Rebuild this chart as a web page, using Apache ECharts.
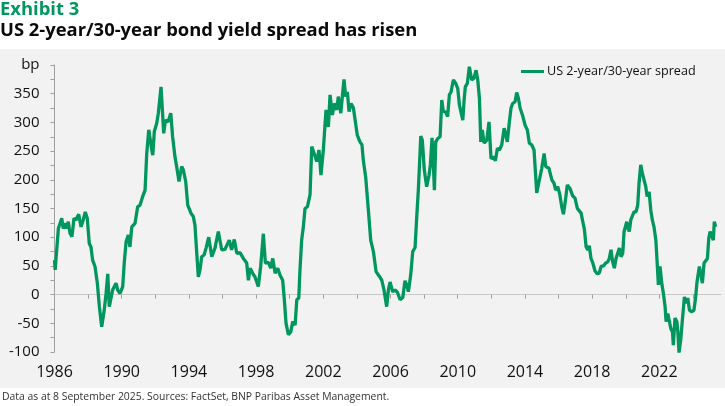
<!DOCTYPE html>
<html lang="en">
<head>
<meta charset="utf-8">
<title>US 2-year/30-year spread</title>
<script src="https://cdn.jsdelivr.net/npm/echarts@6.0.0/dist/echarts.min.js"></script>
<style>
  html, body { margin: 0; padding: 0; background: #fff; }
  #chart { width: 725px; height: 406px; }
</style>
</head>
<body>
<div id="chart"></div>
<script>
// spread in bp (decimal year, value)
var years = [
  1986.00, 1986.04, 1986.23, 1986.43, 1986.52, 1986.67, 1986.73, 1986.82, 1986.92, 1987.04,
  1987.16, 1987.28, 1987.44, 1987.58, 1987.71, 1987.83, 1987.95, 1988.07, 1988.17, 1988.27,
  1988.41, 1988.55, 1988.67, 1988.81, 1988.96, 1989.07, 1989.17, 1989.26, 1989.36, 1989.46,
  1989.56, 1989.66, 1989.76, 1989.90, 1990.06, 1990.15, 1990.26, 1990.39, 1990.49, 1990.60,
  1990.79, 1990.95, 1991.09, 1991.25, 1991.39, 1991.49, 1991.61, 1991.69, 1991.79, 1991.85,
  1991.94, 1992.08, 1992.18, 1992.34, 1992.42, 1992.50, 1992.60, 1992.76, 1992.92, 1993.03,
  1993.17, 1993.27, 1993.41, 1993.57, 1993.67, 1993.81, 1993.93, 1994.02, 1994.12, 1994.26,
  1994.36, 1994.46, 1994.56, 1994.66, 1994.76, 1994.90, 1995.02, 1995.18, 1995.36, 1995.55,
  1995.75, 1995.95, 1996.15, 1996.40, 1996.54, 1996.70, 1996.85, 1997.04, 1997.24, 1997.44,
  1997.54, 1997.64, 1997.80, 1997.93, 1998.13, 1998.27, 1998.43, 1998.55, 1998.73, 1998.87,
  1998.99, 1999.13, 1999.29, 1999.42, 1999.58, 1999.68, 1999.78, 1999.92, 2000.06, 2000.18,
  2000.32, 2000.42, 2000.54, 2000.61, 2000.71, 2000.81, 2000.91, 2001.05, 2001.21, 2001.31,
  2001.45, 2001.61, 2001.74, 2001.86, 2002.00, 2002.16, 2002.30, 2002.40, 2002.54, 2002.65,
  2002.80, 2002.89, 2003.04, 2003.15, 2003.23, 2003.33, 2003.43, 2003.53, 2003.65, 2003.79,
  2003.90, 2004.02, 2004.18, 2004.30, 2004.38, 2004.52, 2004.68, 2004.82, 2004.98, 2005.14,
  2005.33, 2005.48, 2005.61, 2005.77, 2005.87, 2005.97, 2006.13, 2006.27, 2006.41, 2006.57,
  2006.73, 2006.86, 2006.96, 2007.06, 2007.20, 2007.32, 2007.46, 2007.56, 2007.66, 2007.80,
  2007.89, 2008.01, 2008.15, 2008.29, 2008.37, 2008.47, 2008.55, 2008.61, 2008.69, 2008.81,
  2008.95, 2009.05, 2009.14, 2009.29, 2009.40, 2009.50, 2009.60, 2009.74, 2009.88, 2010.00,
  2010.10, 2010.20, 2010.30, 2010.38, 2010.45, 2010.57, 2010.69, 2010.83, 2010.97, 2011.09,
  2011.19, 2011.29, 2011.37, 2011.46, 2011.57, 2011.73, 2011.86, 2011.98, 2012.12, 2012.24,
  2012.36, 2012.48, 2012.62, 2012.76, 2012.84, 2012.95, 2013.05, 2013.17, 2013.27, 2013.41,
  2013.51, 2013.61, 2013.71, 2013.85, 2014.01, 2014.14, 2014.26, 2014.40, 2014.54, 2014.70,
  2014.84, 2015.00, 2015.14, 2015.24, 2015.43, 2015.60, 2015.73, 2015.83, 2015.95, 2016.07,
  2016.19, 2016.29, 2016.40, 2016.52, 2016.68, 2016.84, 2016.98, 2017.12, 2017.22, 2017.34,
  2017.44, 2017.54, 2017.64, 2017.74, 2017.83, 2017.93, 2018.04, 2018.17, 2018.31, 2018.43,
  2018.53, 2018.67, 2018.81, 2018.93, 2019.02, 2019.12, 2019.22, 2019.32, 2019.42, 2019.52,
  2019.62, 2019.72, 2019.82, 2019.90, 2019.98, 2020.06, 2020.14, 2020.21, 2020.30, 2020.39,
  2020.49, 2020.61, 2020.71, 2020.79, 2020.89, 2020.99, 2021.09, 2021.19, 2021.27, 2021.39,
  2021.49, 2021.58, 2021.68, 2021.79, 2021.86, 2021.94, 2022.04, 2022.14, 2022.24, 2022.34,
  2022.40, 2022.50, 2022.60, 2022.68, 2022.78, 2022.83, 2022.93, 2023.04, 2023.10, 2023.17,
  2023.27, 2023.37, 2023.49, 2023.59, 2023.69, 2023.79, 2023.93, 2024.06, 2024.16, 2024.24,
  2024.38, 2024.46, 2024.56, 2024.66, 2024.76, 2024.86, 2024.94, 2025.02, 2025.12, 2025.21,
  2025.27, 2025.35
];
var spread = [
   60,  43, 115, 133, 115, 124, 115, 127, 107, 101,
  133, 130, 140, 118, 130, 144, 133,  89,  83,  60,
   49,  20, -21, -56, -27,   2,  36, -21, -18,   8,
   11,  20,   8,   2,  14,  55,  92, 104,  83, 118,
  124, 153, 156, 171, 182, 246, 287, 288, 252, 243,
  284, 298, 316, 362, 322, 281, 304, 301, 316, 275,
  240, 223, 197, 223, 217, 197, 156, 153, 142, 136,
  121,  75,  31,  43,  66,  69,  81, 100,  66,  81,
  110,  78,  79,  95,  78,  96,  72,  73,  63,  55,
   25,  46,  37,  31,  14,  49, 106,  55,  56,  46,
   63,  37,  46,  34,  25,  -9, -50, -70, -65, -47,
  -53,  -9,  -6,  43,  95, 118, 150, 153, 174, 258,
  246, 232, 252, 208, 252, 322, 292, 348, 313, 333,
  322, 345, 316, 351, 375, 345, 353, 319, 333, 325,
  327, 278, 266, 261, 234, 205, 147,  95,  75,  40,
   32,  25,   8, -21,   8,  22,   5,   8,   4,  -9,
   -5,  24,  17,   5,  34,  75,  82, 136, 185, 276,
  269, 217, 188, 208, 226, 273, 226, 182, 266, 272,
  275, 339, 319, 318, 310, 348, 353, 374, 368, 359,
  330, 333, 304, 339, 362, 368, 397, 374, 377, 391,
  374, 342, 266, 287, 264, 269, 301, 237, 240, 233,
  255, 252, 261, 290, 281, 266, 295, 325, 333, 336,
  352, 342, 325, 313, 295, 287, 264, 261, 252, 177,
  197, 220, 246, 223, 220, 200, 194, 182, 188, 175,
  153, 140, 162, 191, 185, 172, 168, 150, 153, 142,
  139, 113,  83,  78,  85,  63,  55,  41,  36,  38,
   49,  50,  55,  57,  63,  78,  57,  46,  63,  60,
   81,  66,  72, 110, 113, 127, 115, 110, 130, 127,
  144, 144, 156, 194, 226, 211, 208, 188, 171, 179,
  147, 130, 118,  95,  60,  17,  49,  20,   2, -21,
  -47, -33, -47, -59, -65, -88, -41, -47, -65, -101,
  -79, -44,  -4, -15,  -6, -27, -30, -27,  -4,  22,
   49,  37,  20,  55,  55,  63,  98, 110, 107,  95,
  127, 118
];
var tickYears = [1986, 1988, 1990, 1992, 1994, 1996, 1998, 2000, 2002, 2004,
                 2006, 2008, 2010, 2012, 2014, 2016, 2018, 2020, 2022, 2024];
var labelYears = [1986, 1990, 1994, 1998, 2002, 2006, 2010, 2014, 2018, 2022];

var green = '#00965E';
var font = '"Open Sans", "Noto Sans", sans-serif';

var points = years.map(function (y, i) { return [y, spread[i]]; });

var option = {
    backgroundColor: '#ffffff',
    animation: false,
    textStyle: { fontFamily: font },
    graphic: [
        { type: 'rect', z: -10, shape: { x: 0, y: 49, width: 725, height: 339 }, style: { fill: '#f2f2f2' } },
        { type: 'text', left: 0, top: 1, style: { text: 'Exhibit 3', fill: green, font: 'bold 18.4px ' + font } },
        { type: 'text', left: 0, top: 22, style: { text: 'US 2-year/30-year bond yield spread has risen', fill: '#0a0a0a', font: 'bold 18.4px ' + font } },
        { type: 'text', left: 2, top: 392, style: { text: 'Data as at 8 September 2025. Sources: FactSet, BNP Paribas Asset Management.', fill: '#333', font: '10.4px ' + font } }
    ],
    legend: {
        data: ['US 2-year/30-year spread'],
        left: 521, top: 65, padding: 0,
        icon: 'rect', itemWidth: 23, itemHeight: 3,
        textStyle: { fontSize: 12.6, color: '#111', fontFamily: font, padding: [0, 0, 0, -2] }
    },
    grid: { left: 54.5, right: 4.3, top: 65, bottom: 54, containLabel: false, outerBoundsMode: 'none' },
    xAxis: [
        {
            type: 'value', min: 1986, max: 2025.65,
            axisLine: { show: false, onZero: false }, axisTick: { show: false }, splitLine: { show: false },
            axisLabel: { customValues: labelYears, formatter: function (v) { return String(v); },
                         fontSize: 16, color: '#111', margin: 12 }
        },
        {
            type: 'value', min: 1986, max: 2025.65, position: 'bottom',
            axisLine: { show: true, onZero: true, lineStyle: { color: '#c8c8c8', width: 1 } },
            axisTick: { show: true, customValues: tickYears, length: 4, lineStyle: { color: '#a0a0a0' } },
            axisLabel: { show: false }, splitLine: { show: false }
        }
    ],
    yAxis: {
        type: 'value', min: -100, max: 400, interval: 25,
        axisLine: { show: true, lineStyle: { color: '#a0a0a0' } },
        axisTick: { show: true, length: 4, lineStyle: { color: '#a0a0a0' } },
        splitLine: { show: false },
        axisLabel: {
            fontSize: 15, color: '#111', margin: 15,
            formatter: function (v) {
                if (v === 400) return 'bp';
                return v % 50 === 0 ? String(v) : '';
            }
        }
    },
    series: [{
        name: 'US 2-year/30-year spread',
        type: 'line',
        xAxisIndex: 0,
        data: points,
        showSymbol: false,
        symbol: 'none',
        lineStyle: { color: green, width: 3.3 },
        itemStyle: { color: green }
    }]
};

var myChart = echarts.init(document.getElementById('chart'));
myChart.setOption(option);
</script>
</body>
</html>
